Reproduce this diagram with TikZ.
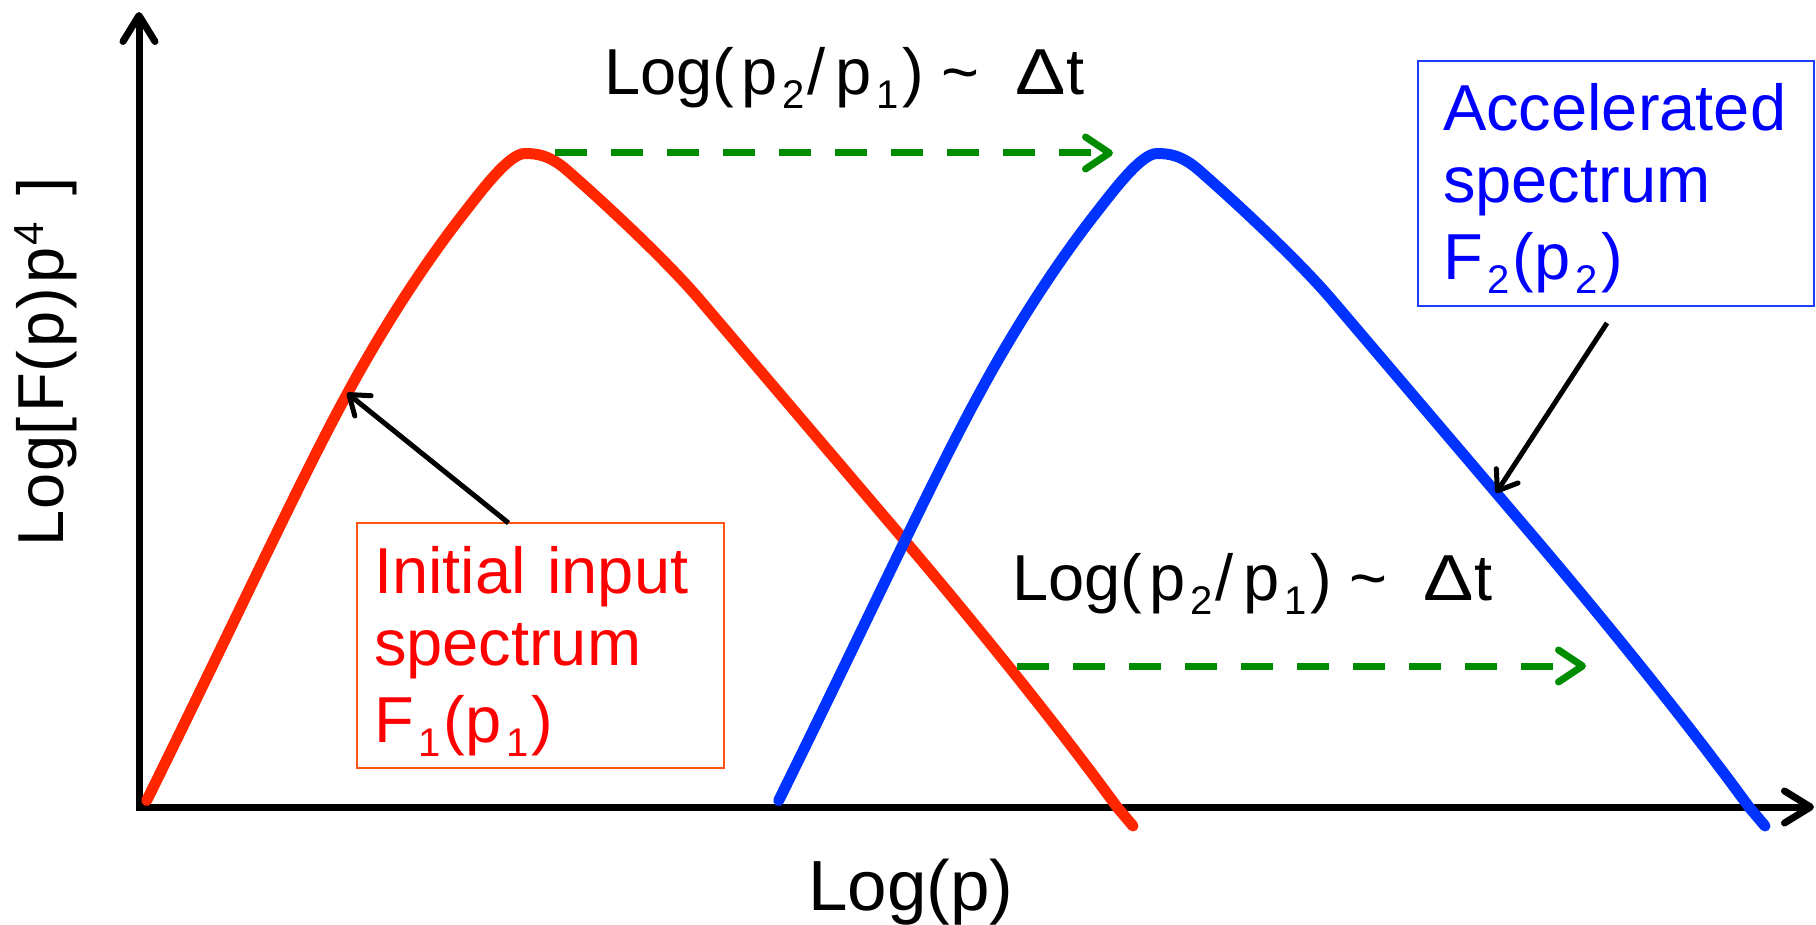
\documentclass[tikz,border=0pt]{standalone}
\usepackage{fontspec}
\setmainfont{Liberation Sans}
\usetikzlibrary{arrows.meta}
\definecolor{curvered}{RGB}{255,38,0}
\definecolor{curveblue}{RGB}{0,51,255}
\definecolor{textred}{RGB}{255,0,0}
\definecolor{textblue}{RGB}{0,0,255}
\definecolor{boxred}{RGB}{255,85,20}
\definecolor{boxblue}{RGB}{30,60,255}
\definecolor{arrowgreen}{RGB}{0,140,0}
\newcommand\lsub[1]{\kern5pt\raisebox{-14pt}{\fontsize{40}{40}\selectfont #1}\kern3pt}
\newcommand\usup[1]{\raisebox{20pt}{\fontsize{42}{42}\selectfont #1}}
\newcommand\bigfont{\fontsize{65}{72}\selectfont}
\newcommand\wideDelta{\scalebox{1.16}[1]{Δ}}
\begin{document}
\begin{tikzpicture}[x=1pt,y=-1pt,
  axis/.style={line width=7pt, line join=miter, {Straight Barb[length=26pt,width=32pt,round]}-{Straight Barb[length=26pt,width=32pt,round]}},
  spec/.style={line width=11pt, line cap=round, line join=round},
  shiftarrow/.style={arrowgreen, line width=7pt, dash pattern=on 32pt off 24pt, -{Straight Barb[length=24pt,width=32pt,round]}},
  pointer/.style={line width=5pt, -{Straight Barb[length=18pt,width=26pt,round]}},
  lbl/.style={font=\bigfont, inner sep=0pt},
  specbox/.style={draw, line width=2pt, inner ysep=0pt, outer sep=0pt, align=left, font=\bigfont, anchor=north west}
]
\useasboundingbox (0,0) rectangle (1816,925);
% axes
\coordinate (O) at (139,807);
\coordinate (ytop) at (139,12);
\coordinate (xend) at (1814,807);
\draw[axis] (ytop) -- (O) -- (xend);
% spectra (blue = red shifted right)
\foreach \s/\c in {0/curvered, 632/curveblue}
  \draw[spec, \c, xshift=\s pt] (146.7,800.5)
    .. controls (230,632) and (300,480) .. (346.7,394.7)
    .. controls (380,333) and (420,270) .. (460,218.2)
    .. controls (482,190) and (509,153.5) .. (525,153.5)
    .. controls (537,153.5) and (549.7,155.2) .. (566.7,170)
    .. controls (601.7,200.5) and (665,259) .. (700,300)
    -- (900,535)
    .. controls (960,605.5) and (1050,715) .. (1116.7,806.7)
    -- (1133,826);
% axis labels
\node[lbl, rotate=90, anchor=base] (ylab) at (63,362)
  {Lo\kern2pt g[\kern5pt F(\kern4pt p\kern2pt)\kern4pt p\kern2pt\usup{4}\hspace{26pt}]};
\node[lbl, font=\fontsize{71}{80}\selectfont, anchor=base] (xlab) at (911,910) {Log(p)};
% shift labels and arrows
\node[lbl, anchor=base west] (shifta) at (604,95)
  {Log(\kern7pt p\lsub{2}/\kern10pt p\lsub{1}) \textasciitilde\hspace{18pt} \wideDelta t};
\node[lbl, anchor=base west] (shiftb) at (1012,600)
  {Log(\kern7pt p\lsub{2}/\kern10pt p\lsub{1}) \textasciitilde\hspace{18pt} \wideDelta t};
\coordinate (g1a) at (555,153);
\coordinate (g1b) at (1113,153);
\coordinate (g2a) at (1017,666);
\coordinate (g2b) at (1586,666);
\draw[shiftarrow] (g1a) -- (g1b);
\draw[shiftarrow] (g2a) -- (g2b);
% boxes
\node[specbox, draw=boxred, text=textred, inner xsep=17pt, text width=333pt] (rbox) at (357,523)
  {\rule{0pt}{70pt}Initial input\\ spectrum\\[5pt] F\lsub{1}(p\lsub{1})\rule[-26pt]{0pt}{26pt}};
\node[specbox, draw=boxblue, text=textblue, inner xsep=25pt, text width=346pt] (bbox) at (1418,61)
  {\rule{0pt}{70pt}Accelerated\\ spectrum\\[5pt] F\lsub{2}(p\lsub{2})\rule[-26pt]{0pt}{26pt}};
% pointers
\coordinate (p1) at (347,393);
\coordinate (b0) at ([xshift=-9pt,yshift=-17pt]bbox.south);
\coordinate (p2) at (1496,493);
\draw[pointer] ([xshift=-32pt]rbox.north) -- (p1);
\draw[pointer] (b0) -- (p2);
\end{tikzpicture}
\end{document}
